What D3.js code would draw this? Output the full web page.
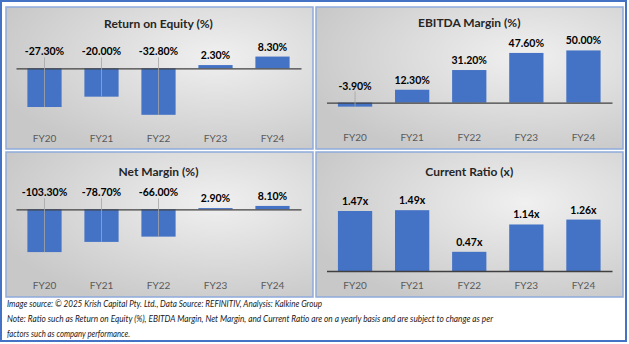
<!DOCTYPE html>
<html>
<head>
<meta charset="utf-8">
<script src="https://cdn.jsdelivr.net/npm/d3@7/dist/d3.min.js"></script>
<style>
  html, body { margin: 0; padding: 0; background: #fff; }
  svg { display: block; }
  text { font-family: Lato, "Open Sans", sans-serif; }
</style>
</head>
<body>
<svg id="chart" width="629" height="344"></svg>
<script>
const categories = ["FY20", "FY21", "FY22", "FY23", "FY24"];
const roeValues = [-27.3, -20.0, -32.8, 2.3, 8.3];
const ebitdaValues = [-3.9, 12.3, 31.2, 47.6, 50.0];
const netMarginValues = [-103.3, -78.7, -66.0, 2.9, 8.1];
const currentRatioValues = [1.47, 1.49, 0.47, 1.14, 1.26];
const titles = ["Return on Equity (%)", "EBITDA Margin (%)", "Net Margin (%)", "Current Ratio (x)"];
const footerLines = [
  "Image source: \u00A9 2025 Krish Capital Pty. Ltd., Data Source: REFINITIV, Analysis: Kalkine Group",
  "Note: Ratio such as Return on Equity (%), EBITDA Margin, Net Margin, and Current Ratio are on a yearly basis and are subject to change as per",
  "factors such as company performance."
];

const fmt2 = d3.formatLocale({ decimal: ".", thousands: ",", grouping: [3], currency: ["", ""], minus: "-" }).format(".2f");
const pct = v => fmt2(v) + "%";
const ratio = v => fmt2(v) + "x";

const svg = d3.select("#chart");
const defs = svg.append("defs");
const grad = defs.append("radialGradient").attr("id", "panelGrad")
  .attr("cx", "68%").attr("cy", "35%").attr("r", "75%");
grad.append("stop").attr("offset", "0%").attr("stop-color", "#f0f0f0");
grad.append("stop").attr("offset", "100%").attr("stop-color", "#c8c8c8");

// outer frame
svg.append("rect").attr("x", 1).attr("y", 1).attr("width", 625).attr("height", 340)
  .attr("fill", "#fff").attr("stroke", "#4472C4").attr("stroke-width", 2);

const panels = [
  { title: titles[0], values: roeValues, fmt: pct, box: [6, 7, 307, 142],
    xr: [16, 301], yd: [-40, 20], yr: [125, 40], titleY: 23, catY: 138 },
  { title: titles[1], values: ebitdaValues, fmt: pct, box: [316, 7, 307, 142],
    xr: [326.5, 612], yd: [-10, 60], yr: [113, 40], titleY: 22, catY: 137 },
  { title: titles[2], values: netMarginValues, fmt: pct, box: [6, 152, 307, 145],
    xr: [16, 301], yd: [-120, 20], yr: [259, 201], titleY: 171, catY: 285 },
  { title: titles[3], values: currentRatioValues, fmt: ratio, box: [316, 152, 307, 145],
    xr: [326.5, 612], yd: [0, 1.6], yr: [271, 205.7], titleY: 171, catY: 285 }
];

panels.forEach(p => {
  const g = svg.append("g");
  const [bx, by, bw, bh] = p.box;
  g.append("rect").attr("x", bx).attr("y", by).attr("width", bw).attr("height", bh)
    .attr("fill", "url(#panelGrad)").attr("stroke", "#8FAADC").attr("stroke-width", 1.5);

  const x = d3.scaleBand().domain(categories).range(p.xr).paddingInner(0.4).paddingOuter(0.2);
  const y = d3.scaleLinear().domain(p.yd).range(p.yr);
  const data = categories.map((c, i) => ({ c, v: p.values[i] }));

  g.append("text").attr("x", (p.xr[0] + p.xr[1]) / 2).attr("y", p.titleY)
    .attr("text-anchor", "middle").attr("dominant-baseline", "central")
    .attr("font-size", 12).attr("font-weight", "bold").attr("fill", "#262626")
    .text(p.title);

  g.selectAll("rect.bar").data(data).join("rect").attr("class", "bar")
    .attr("x", d => x(d.c)).attr("width", x.bandwidth())
    .attr("y", d => Math.min(y(0), y(d.v)))
    .attr("height", d => Math.abs(y(d.v) - y(0)))
    .attr("fill", "#4472C4");

  // zero axis
  const axis = g.append("g").attr("transform", `translate(0,${y(0)})`)
    .call(d3.axisBottom(x).tickSize(0).tickFormat(""));
  axis.select(".domain").attr("stroke", "#404040").attr("stroke-width", 1.3);

  // category labels
  g.selectAll("text.cat").data(data).join("text").attr("class", "cat")
    .attr("x", d => x(d.c) + x.bandwidth() / 2).attr("y", p.catY)
    .attr("text-anchor", "middle").attr("dominant-baseline", "central")
    .attr("font-size", 10).attr("fill", "#595959")
    .text(d => d.c);

  const labelY = d => d.v < 0 ? y(0) - 17 : y(d.v) - 10;
  // leader lines for negative values
  g.selectAll("line.lead").data(data.filter(d => d.v < 0)).join("line").attr("class", "lead")
    .attr("x1", d => x(d.c) + x.bandwidth() / 2).attr("x2", d => x(d.c) + x.bandwidth() / 2)
    .attr("y1", d => labelY(d) + 6).attr("y2", d => y(d.v))
    .attr("stroke", "#a6a6a6").attr("stroke-width", 0.8);

  g.selectAll("text.val").data(data).join("text").attr("class", "val")
    .attr("x", d => x(d.c) + x.bandwidth() / 2).attr("y", labelY)
    .attr("text-anchor", "middle").attr("dominant-baseline", "central")
    .attr("font-size", 10.5).attr("font-weight", "bold").attr("fill", "#000")
    .text(d => p.fmt(d.v));
});

// footer
const footerY = [303, 318, 333];
const footerW = [315, 486, 123];
svg.selectAll("text.foot").data(footerLines).join("text").attr("class", "foot")
  .attr("x", 7).attr("y", (d, i) => footerY[i])
  .attr("dominant-baseline", "central")
  .attr("font-size", 10).attr("font-style", "italic").attr("fill", "#1a1a1a")
  .attr("textLength", (d, i) => footerW[i]).attr("lengthAdjust", "spacingAndGlyphs")
  .text(d => d);
</script>
</body>
</html>
